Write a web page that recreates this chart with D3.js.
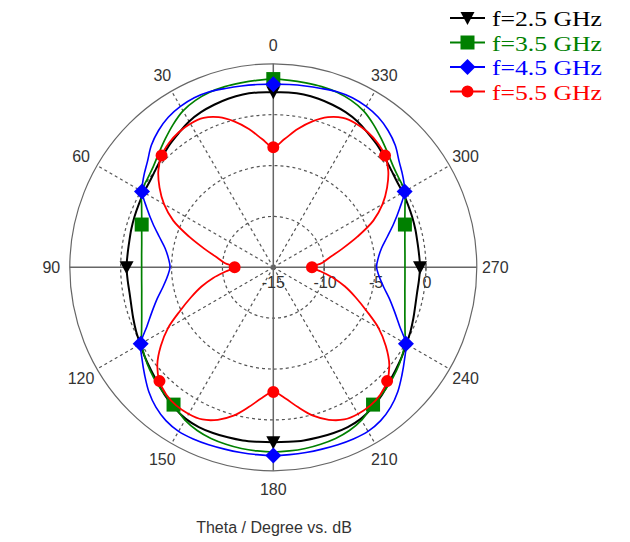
<!DOCTYPE html>
<html><head><meta charset="utf-8">
<script src="https://cdn.jsdelivr.net/npm/d3@7"></script>
<style>body{margin:0;background:#fff}svg{display:block}</style>
</head><body>
<svg id="chart" width="630" height="542"></svg>
<script>
// ---- data (half pattern 0..180 deg, pattern is mirrored for 180..360) ----
const seriesNames = ["f=2.5 GHz", "f=3.5 GHz", "f=4.5 GHz", "f=5.5 GHz"];
const angles5 = [0,5,10,15,20,25,30,35,40,45,50,55,60,65,70,75,80,85,90,95,100,105,110,115,120,125,130,135,140,145,150,155,160,165,170,175,180];
const black25 = [2.2,2.25,2.25,2.15,2.0,1.82,1.55,1.15,0.8,0.4,0.05,-0.2,-0.3,-0.4,-0.48,-0.55,-0.62,-0.62,-0.58,-0.63,-0.65,-0.55,-0.35,-0.12,0.1,0.4,0.7,1.05,1.5,1.9,2.2,2.32,2.33,2.3,2.28,2.22,2.2];
const greenAngles = [0,5,10,15,20,25,30,35,40,45,50,55,60,65,70,72,75,80,85,90,95,100,105,110,115,120,125,130,135,140,144,150,155,160,165,170,175,180];
const green35 = [3.5,3.45,3.4,3.38,3.3,3.1,2.75,2.15,1.5,0.9,0.4,0.12,-0.06,-0.72,-1.24,-1.4,-1.61,-1.87,-2.01,-2.06,-2.01,-1.87,-1.61,-1.24,-0.72,-0.06,0.4,0.8,1.15,1.45,1.68,2.35,2.7,2.9,3.0,3.08,3.12,3.15];
const blue45 = [3.0,3.03,3.1,3.2,3.35,3.38,3.25,3.0,2.55,1.95,1.15,0.55,-0.1,-1.3,-2.4,-3.4,-4.2,-4.65,-4.85,-4.55,-4.0,-3.2,-2.33,-1.3,0.05,0.75,1.5,2.3,2.95,3.4,3.62,3.62,3.56,3.5,3.48,3.48,3.5];
const red55 = [-3.2,-2.35,-1.2,-0.15,0.7,1.2,1.3,1.2,0.95,0.53,-0.25,-1.35,-2.6,-4.15,-6.2,-8.0,-9.35,-10.2,-11.2,-10.3,-9.0,-7.7,-6.4,-4.9,-3.05,-1.5,-0.12,0.82,1.35,1.6,1.64,1.5,0.95,0.1,-1.05,-2.1,-2.75];
const markerSteps = [90, 72, 60, 45];
const colors = ["#000000", "#008000", "#0000ff", "#ff0000"];
const angleTicks = [0,30,60,90,120,150,180,210,240,270,300,330];
const radialTicks = [-15,-10,-5,0];
const radialDomain = [-15, 5];
const axisTitle = "Theta / Degree vs. dB";

// ---- layout ----
const cx = 273.3, cy = 267.3, R = 203.5;
const svg = d3.select("#chart");
const g = svg.append("g").attr("transform", `translate(${cx},${cy})`);
const rScale = d3.scaleLinear().domain(radialDomain).range([0, R]);
const toRad = a => a * Math.PI / 180;
const px = (a, r) => -r * Math.sin(toRad(a));
const py = (a, r) => -r * Math.cos(toRad(a));

// grid: dashed circles
g.selectAll("circle.grid").data(radialTicks.filter(t => t > -15)).join("circle")
  .attr("r", d => rScale(d)).attr("fill", "none")
  .attr("stroke", "#555").attr("stroke-width", 1.2).attr("stroke-dasharray", "3,3");
// dashed spokes
g.selectAll("line.spoke").data(angleTicks.filter(a => a % 90 !== 0)).join("line")
  .attr("x1", 0).attr("y1", 0)
  .attr("x2", d => px(d, R)).attr("y2", d => py(d, R))
  .attr("stroke", "#555").attr("stroke-width", 1.2).attr("stroke-dasharray", "3,3");
// solid axes
g.selectAll("line.axis").data([0, 90]).join("line")
  .attr("x1", d => px(d, R)).attr("y1", d => py(d, R))
  .attr("x2", d => px(d + 180, R)).attr("y2", d => py(d + 180, R))
  .attr("stroke", "#666").attr("stroke-width", 1.5);
// outer circle
g.append("circle").attr("r", R).attr("fill", "none").attr("stroke", "#666").attr("stroke-width", 1.2);
// radial ticks on right axis
g.selectAll("line.rtick").data(radialTicks.filter(t => t > -15)).join("line")
  .attr("x1", d => rScale(d)).attr("x2", d => rScale(d)).attr("y1", -4).attr("y2", 4)
  .attr("stroke", "#555").attr("stroke-width", 1.2);

// angle labels
g.selectAll("text.ang").data(angleTicks).join("text")
  .attr("x", d => px(d, 222)).attr("y", d => py(d, 222))
  .attr("text-anchor", "middle").attr("dominant-baseline", "central")
  .attr("font-family", "Liberation Sans, Arial, sans-serif").attr("font-size", 16).attr("fill", "#333")
  .text(d => d);
// radial labels
g.selectAll("text.rad").data(radialTicks).join("text")
  .attr("x", d => rScale(d) + (d === -15 ? 0 : 1)).attr("y", 21)
  .attr("text-anchor", "middle")
  .attr("font-family", "Liberation Sans, Arial, sans-serif").attr("font-size", 16).attr("fill", "#333")
  .text(d => d);

// series
function fullPattern(angles, values) {
  const pts = angles.map((a, i) => ({ a, v: values[i] }));
  const mirror = pts.filter(p => p.a > 0 && p.a < 180).map(p => ({ a: 360 - p.a, v: p.v }));
  return pts.concat(mirror).sort((x, y) => x.a - y.a);
}
const series = [
  fullPattern(angles5, black25),
  fullPattern(greenAngles, green35),
  fullPattern(angles5, blue45),
  fullPattern(angles5, red55)
];
const widths = [2, 1.7, 1.6, 1.8];
const line = d3.lineRadial()
  .angle(d => -toRad(d.a)).radius(d => rScale(d.v))
  .curve(d3.curveCatmullRomClosed.alpha(0.5));

const markerPath = [
  "M-7,-6L7,-6L0,7Z",
  "M-7,-7L7,-7L7,7L-7,7Z",
  "M0,-8L8,0L0,8L-8,0Z",
  d3.symbol(d3.symbolCircle, 113)()
];

series.forEach((pts, i) => {
  g.append("path").datum(pts).attr("d", line)
    .attr("fill", "none").attr("stroke", colors[i]).attr("stroke-width", widths[i]);
  g.selectAll(null).data(pts.filter(p => p.a % markerSteps[i] === 0)).join("path")
    .attr("d", markerPath[i]).attr("fill", colors[i])
    .attr("transform", d => `translate(${px(d.a, rScale(d.v))},${py(d.a, rScale(d.v))})`);
});

// legend
const lg = svg.append("g");
seriesNames.forEach((name, i) => {
  const by = 26 + i * 24.5;
  const ly = by - 8;
  lg.append("line").attr("x1", 450).attr("x2", 485).attr("y1", ly).attr("y2", ly)
    .attr("stroke", colors[i]).attr("stroke-width", 2);
  lg.append("path").attr("d", markerPath[i]).attr("fill", colors[i])
    .attr("transform", `translate(467.5,${ly})`);
  lg.append("text").attr("x", 492).attr("y", by)
    .attr("font-family", "Liberation Serif, Times New Roman, serif").attr("font-size", 22)
    .attr("textLength", 110).attr("lengthAdjust", "spacingAndGlyphs")
    .attr("fill", colors[i]).text(name);
});

// title
svg.append("text").attr("x", 274).attr("y", 533).attr("text-anchor", "middle")
  .attr("font-family", "Liberation Sans, Arial, sans-serif").attr("font-size", 16).attr("fill", "#333")
  .text(axisTitle);
</script>
</body></html>
